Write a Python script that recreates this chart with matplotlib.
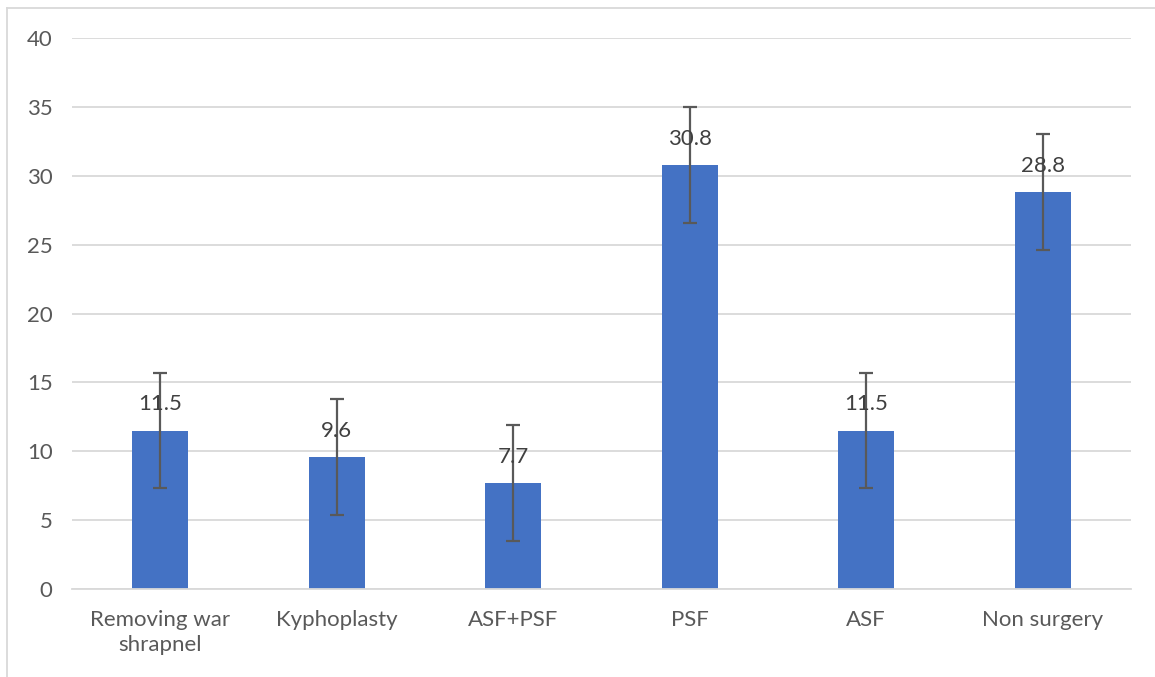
import matplotlib.pyplot as plt
from matplotlib.lines import Line2D
import numpy as np

plt.rcParams['font.family'] = ['Lato', 'DejaVu Sans']

# Data
categories = ['Removing war\nshrapnel', 'Kyphoplasty', 'ASF+PSF', 'PSF', 'ASF', 'Non surgery']
values = [11.5, 9.6, 7.7, 30.8, 11.5, 28.8]
errors = [4.2, 4.2, 4.2, 4.2, 4.2, 4.2]
yticks = [0, 5, 10, 15, 20, 25, 30, 35, 40]

fig = plt.figure(figsize=(11.55, 6.77), dpi=100)
ax = fig.add_axes([72 / 1155, 88 / 677, (1131 - 72) / 1155, (589 - 38) / 677])

x = np.arange(len(categories))
ax.bar(x, values, width=0.32, color='#4472C4', zorder=2)
ax.errorbar(x, values, yerr=errors, fmt='none', ecolor='#595959',
            elinewidth=1.6, capsize=5, capthick=1.6, zorder=3)

for xi, v in zip(x, values):
    ax.text(xi, v + 1.9, f'{v}', ha='center', va='center',
            fontsize=16, color='#404040', zorder=4)

ax.set_xlim(-0.5, len(categories) - 0.5)
ax.set_ylim(0, 40)
ax.set_yticks(yticks)
ax.set_xticks(x)
ax.set_xticklabels(categories, fontsize=16, color='#595959', linespacing=1.3)
ax.tick_params(axis='y', labelsize=16, labelcolor='#595959', length=0, pad=14)
ax.tick_params(axis='x', length=0, pad=15)
ax.grid(axis='y', color='#D9D9D9', linewidth=1.3, zorder=0)
ax.set_axisbelow(True)
for side in ['top', 'right', 'left']:
    ax.spines[side].set_visible(False)
ax.spines['bottom'].set_color('#D9D9D9')
ax.spines['bottom'].set_linewidth(1.3)

# chart frame (top and left edges)
fig.add_artist(Line2D([7 / 1155, 1.0], [1 - 8 / 677, 1 - 8 / 677],
                      transform=fig.transFigure, color='#D9D9D9', linewidth=1.3))
fig.add_artist(Line2D([7 / 1155, 7 / 1155], [0, 1 - 8 / 677],
                      transform=fig.transFigure, color='#D9D9D9', linewidth=1.3))

plt.savefig('out.png', dpi=100)
